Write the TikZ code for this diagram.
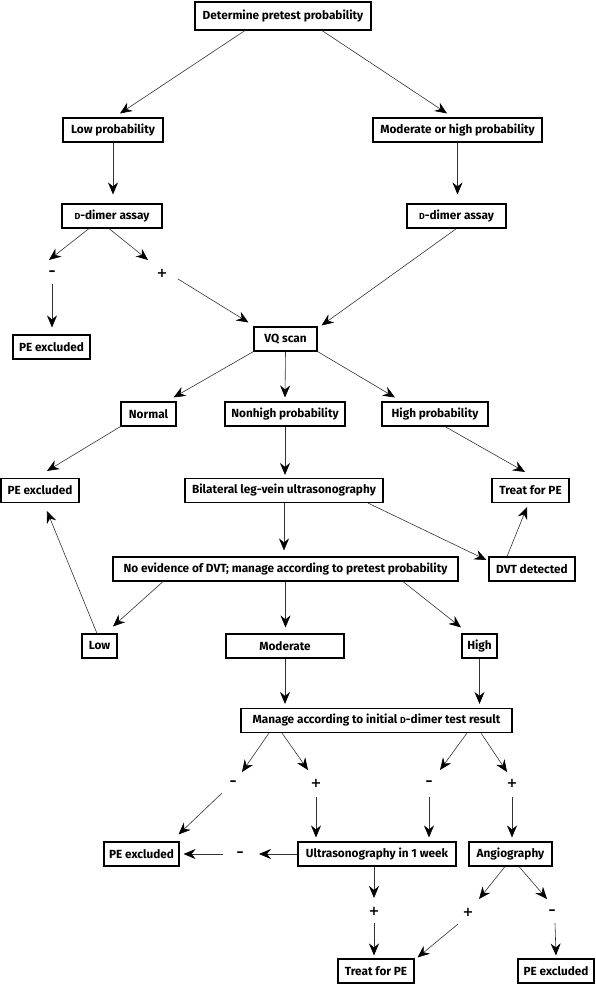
\documentclass[tikz,border=0pt]{standalone}
\usepackage{fontspec}
\setmainfont{Fira Sans}
\newfontfamily\lblfont{DejaVu Sans}
\usetikzlibrary{arrows.meta,calc}
\tikzset{
 box/.style={draw=black, line width=1.1pt, minimum height=24pt, inner sep=0pt, font=\bfseries\fontsize{11.8}{13}\selectfont, anchor=center},
 lbl/.style={inner sep=0pt, font=\lblfont\bfseries\fontsize{13}{14}\selectfont},
 arr/.style={draw=black!80, line width=0.6pt, -{Stealth[length=12pt,width=10pt,inset=4pt,black]}},
}
\newcommand{\Dsc}{{\fontsize{8.8}{8.8}\selectfont D}}
\newcommand{\mn}{{\fontsize{14}{14}\selectfont –}}
\begin{document}
\begin{tikzpicture}[x=1pt,y=-1pt]
\useasboundingbox (0,0) rectangle (595,987);
\node[box,minimum width=176pt,minimum height=28pt] (det) at (283,16) {Determine pretest probability};
\node[box,minimum width=100pt] (lowp) at (113,130) {Low probability};
\node[box,minimum width=169pt] (modp) at (457.5,130) {Moderate or high probability};
\node[box,minimum width=100pt] (dd1) at (112,216) {\Dsc-dimer assay};
\node[box,minimum width=99pt] (dd2) at (456.5,216) {\Dsc-dimer assay};
\node[lbl] (m1) at (52,273) {\mn};
\node[lbl] (p1) at (162,273) {+};
\node[box,minimum width=77pt] (pe1) at (51.5,347) {PE excluded};
\node[box,minimum width=63pt] (vq) at (285.5,339) {VQ scan};
\node[box,minimum width=55pt] (normal) at (148.5,414) {Normal};
\node[box,minimum width=120pt] (nonhigh) at (285,414) {Nonhigh probability};
\node[box,minimum width=106pt] (highp) at (435,414) {High probability};
\node[box,minimum width=78pt] (pe2) at (40,490.5) {PE excluded};
\node[box,minimum width=198pt] (bil) at (284,490.5) {Bilateral leg-vein ultrasonography};
\node[box,minimum width=77pt] (treat1) at (530.5,490.5) {Treat for PE};
\node[box,minimum width=345pt] (noev) at (285.5,569) {No evidence of DVT; manage according to pretest probability};
\node[box,minimum width=86pt] (dvt) at (532,569) {DVT detected};
\node[box,minimum width=35pt] (low) at (99.5,646) {Low};
\node[box,minimum width=118pt] (mod) at (285,646) {Moderate};
\node[box,minimum width=35pt] (high) at (479.5,646) {High};
\node[box,minimum width=271pt] (man) at (376.5,720.5) {Manage according to initial \Dsc-dimer test result};
\node[lbl] (m2) at (233,783) {\mn};
\node[lbl] (p2) at (316,783) {+};
\node[lbl] (m3) at (429,783) {\mn};
\node[lbl] (p3) at (512,783) {+};
\node[box,minimum width=75pt] (pe3) at (141.5,854) {PE excluded};
\node[box,minimum width=158pt] (ultra) at (377,854) {Ultrasonography in 1 week};
\node[box,minimum width=83pt] (angio) at (510.5,854) {Angiography};
\node[lbl] (m4) at (240,854) {\mn};
\node[lbl] (p4) at (374,911) {+};
\node[lbl] (p5) at (468,912) {+};
\node[lbl] (m5) at (552,912) {\mn};
\node[box,minimum width=76pt] (treat2) at (376,971) {Treat for PE};
\node[box,minimum width=76pt] (pe4) at (556,971) {PE excluded};

\draw[arr] ([xshift=-38pt]det.south) -- ([xshift=7pt,yshift=4pt]lowp.north);
\draw[arr] ([xshift=39pt]det.south) -- ([xshift=-10.5pt,yshift=4pt]modp.north);
\draw[arr] (lowp.south) -- ([yshift=9pt]lowp.south |- dd1.north);
\draw[arr] (modp.south) -- ([yshift=9pt]modp.south |- dd2.north);
\draw[arr] ([xshift=-23pt]dd1.south) -- ([xshift=-3pt,yshift=13pt]m1.center);
\draw[arr] ([xshift=-3pt]dd1.south) -- ([xshift=-14pt,yshift=13pt]p1.center);
\draw[arr] ([yshift=-11pt]m1.center) -- ([yshift=7pt]m1.center |- pe1.north);
\draw[arr] ([xshift=16pt,yshift=-6pt]p1.center) -- ([xshift=-5pt,yshift=4pt]vq.north west);
\draw[arr] (dd2.south) -- ([xshift=4pt,yshift=1pt]vq.north east);
\draw[arr] (vq.south west) -- ([xshift=-3pt,yshift=4pt]normal.north east);
\draw[arr] (vq.south) -- ([yshift=4pt]nonhigh.north);
\draw[arr] (vq.south east) -- ([xshift=-40pt,yshift=4pt]highp.north);
\draw[arr] (normal.south west) -- ([xshift=7pt,yshift=7pt]pe2.north);
\draw[arr] (nonhigh.south) -- ([yshift=3pt]nonhigh.south |- bil.north);
\draw[arr] ([xshift=10pt]highp.south) -- ([xshift=-5.5pt,yshift=6pt]treat1.north);
\draw[arr] (bil.south) -- ([yshift=6pt]bil.south |- noev.north);
\draw[arr] ([xshift=84pt]bil.south) -- ([xshift=-2pt,yshift=9pt]dvt.west);
\draw[arr] ([xshift=-25pt]dvt.north) -- ([xshift=-3.5pt,yshift=-4pt]treat1.south);
\draw[arr] ([xshift=-122.5pt]noev.south) -- ([xshift=13.5pt,yshift=7pt]low.north);
\draw[arr] ([xshift=-2.5pt]low.north) -- ([xshift=7pt,yshift=-8pt]pe2.south);
\draw[arr] (noev.south) -- ([yshift=6pt]noev.south |- mod.north);
\draw[arr] ([xshift=117.5pt]noev.south) -- ([xshift=-18.5pt,yshift=6pt]high.north);
\draw[arr] (mod.south) -- ([yshift=4pt]mod.south |- man.north);
\draw[arr] (high.south) -- ([yshift=4pt]high.south |- man.north);
\draw[arr] ([xshift=-107.5pt]man.south) -- ([xshift=9pt,yshift=11pt]m2.center);
\draw[arr] ([xshift=-94.5pt]man.south) -- ([xshift=-8pt,yshift=13pt]p2.center);
\draw[arr] ([xshift=90.5pt]man.south) -- ([xshift=11pt,yshift=13pt]m3.center);
\draw[arr] ([xshift=104.5pt]man.south) -- ([xshift=-5pt,yshift=11pt]p3.center);
\draw[arr] ([xshift=-11pt,yshift=-10pt]m2.center) -- ([xshift=-1pt,yshift=7pt]pe3.north east);
\draw[arr] ([yshift=-14pt]p2.center) -- ([yshift=4pt]p2.center |- ultra.north);
\draw[arr] ([yshift=-14pt]m3.center) -- ([yshift=4pt]m3.center |- ultra.north);
\draw[arr] ([yshift=-14pt]p3.center) -- ([yshift=4pt]p3.center |- angio.north);
\draw[arr] (ultra.west) -- ([xshift=19pt]m4.center);
\draw[arr] ([xshift=-17pt]m4.center) -- ([xshift=4pt]pe3.east);
\draw[arr] (p4.center |- ultra.south) -- ([yshift=13pt]p4.center);
\draw[arr] ([yshift=-12pt]p4.center) -- ([yshift=3pt]p4.center |- treat2.north);
\draw[arr] ([xshift=-5.5pt]angio.south) -- ([xshift=11pt,yshift=13pt]p5.center);
\draw[arr] ([xshift=-10pt,yshift=-12pt]p5.center) -- ([xshift=3pt,yshift=1pt]treat2.north east);
\draw[arr] ([xshift=8.5pt]angio.south) -- ([xshift=-5pt,yshift=13pt]m5.center);
\draw[arr] ([xshift=3pt,yshift=-11pt]m5.center) -- ([yshift=3pt]pe4.north);
\end{tikzpicture}
\end{document}
